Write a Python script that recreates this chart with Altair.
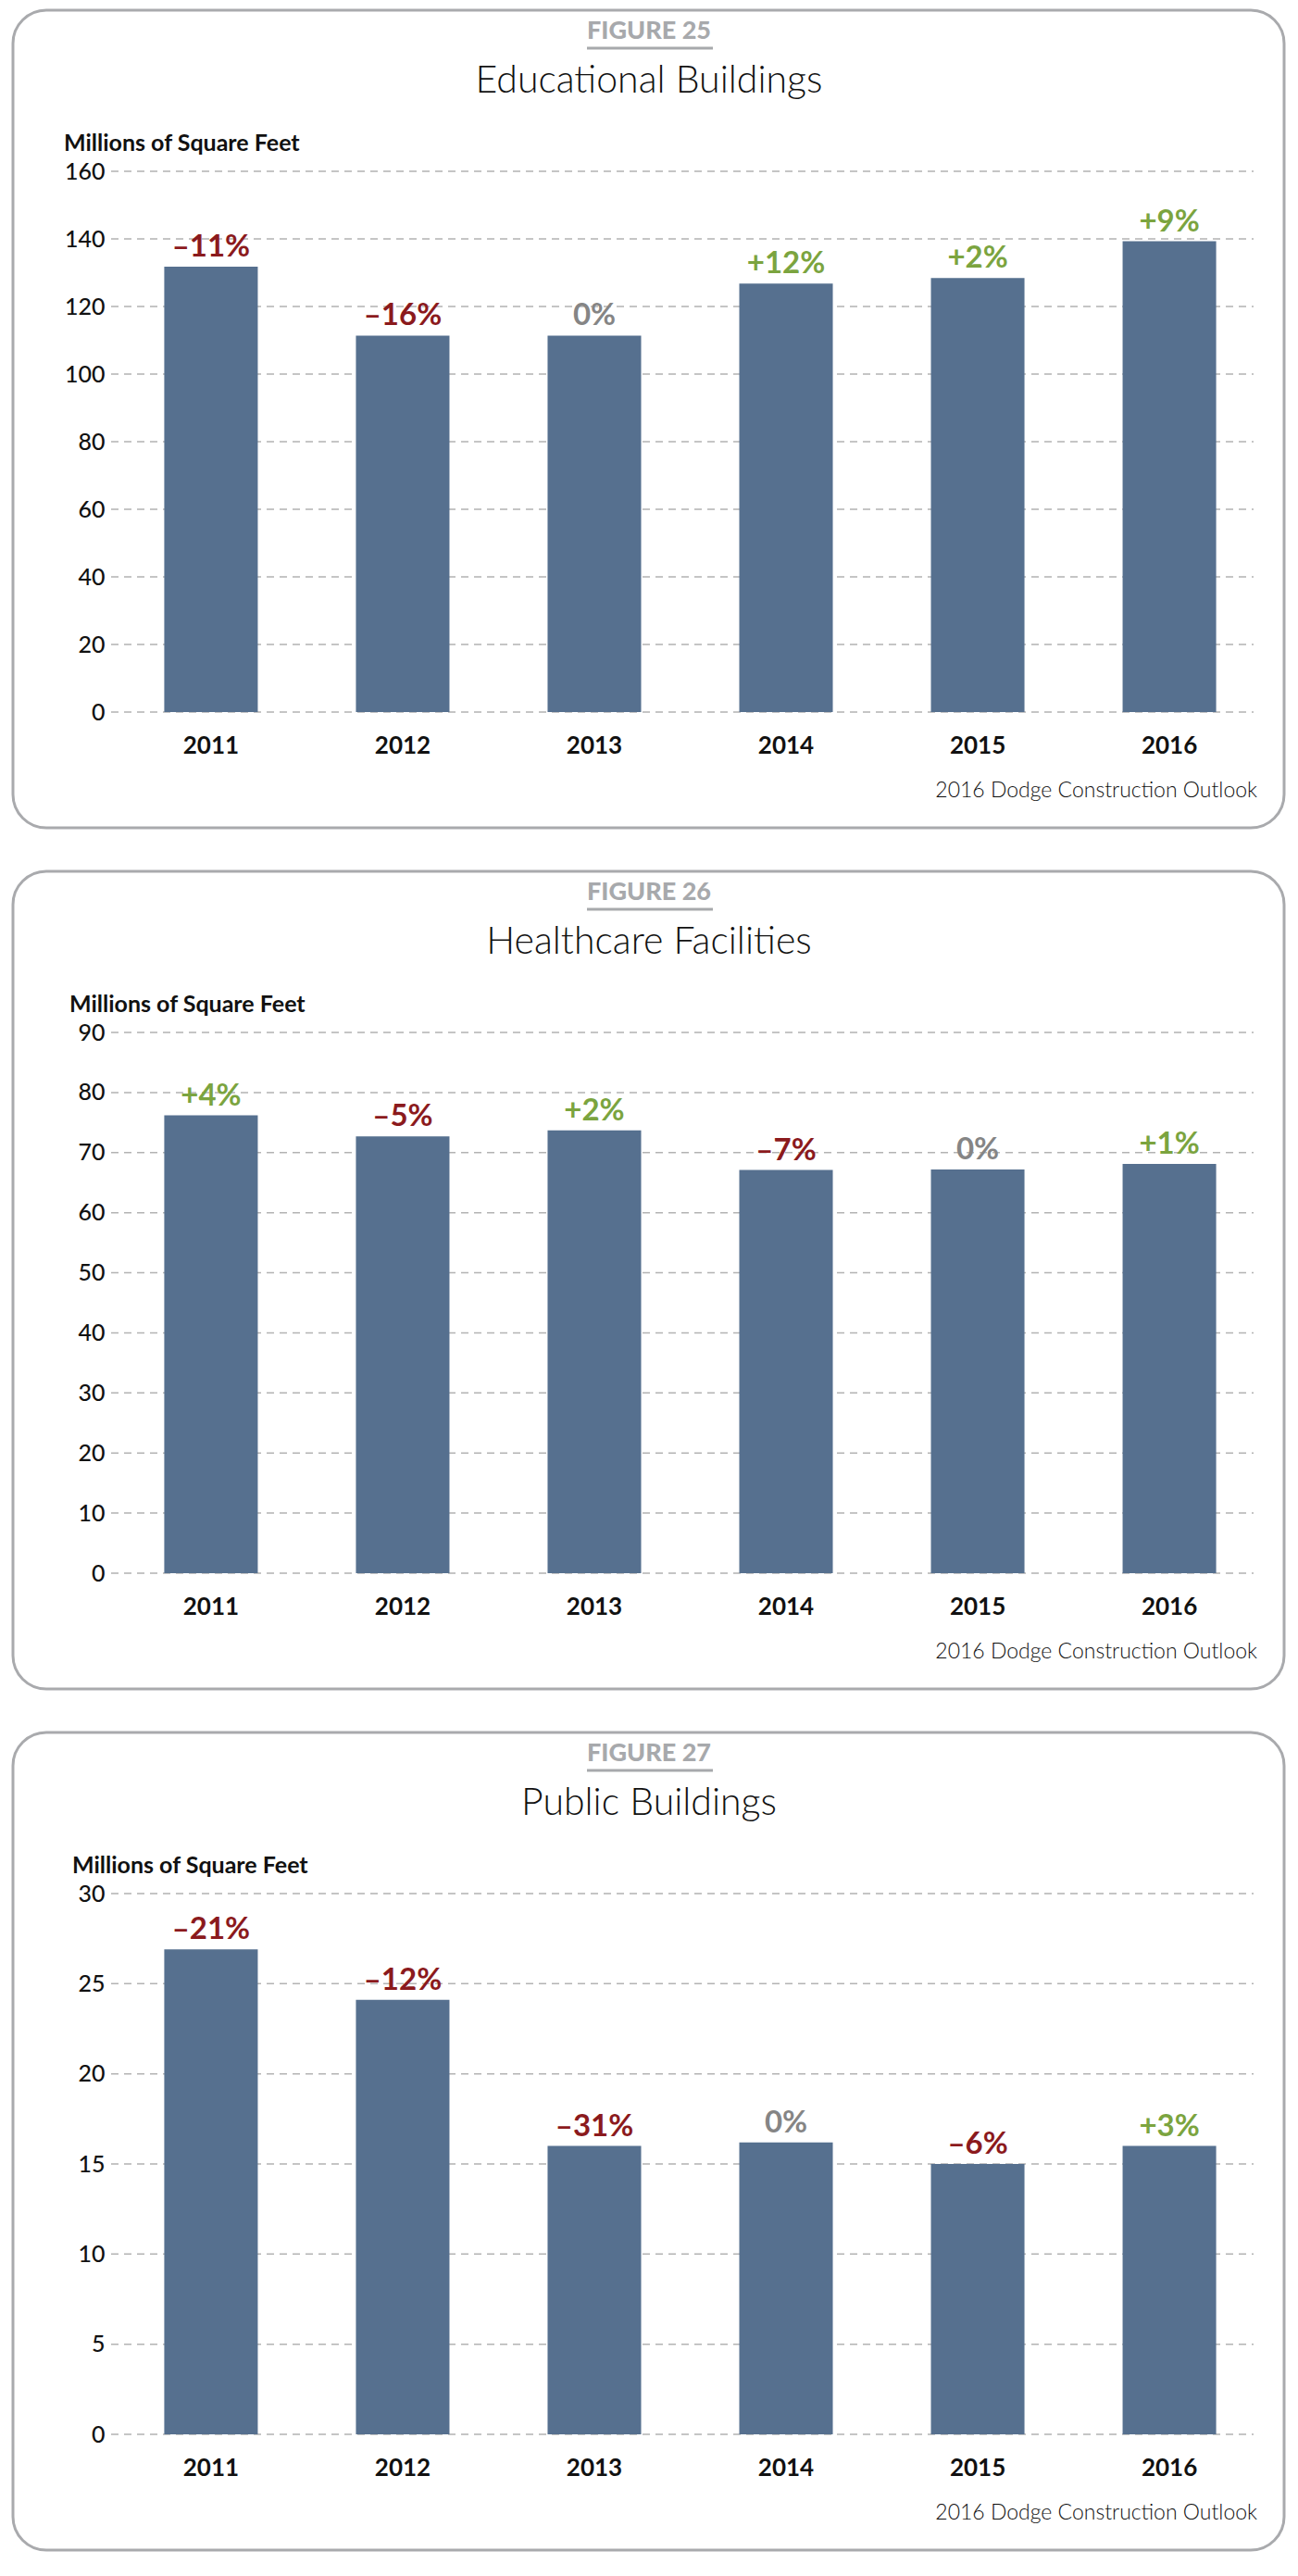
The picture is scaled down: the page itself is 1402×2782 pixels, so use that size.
import altair as alt
import pandas as pd

FIGURES = ["FIGURE 25", "FIGURE 26", "FIGURE 27"]
TITLES = ["Educational Buildings", "Healthcare Facilities", "Public Buildings"]
Y_TITLE = "Millions of Square Feet"
SOURCE = "2016 Dodge Construction Outlook"
YEARS = ["2011", "2012", "2013", "2014", "2015", "2016"]

EDU_VALUES = [131.8, 111.4, 111.4, 126.8, 128.4, 139.3]
EDU_PCT = ["–11%", "–16%", "0%", "+12%", "+2%", "+9%"]
EDU_TICKS = [0, 20, 40, 60, 80, 100, 120, 140, 160]

HEALTH_VALUES = [76.2, 72.7, 73.7, 67.1, 67.2, 68.1]
HEALTH_PCT = ["+4%", "–5%", "+2%", "–7%", "0%", "+1%"]
HEALTH_TICKS = [0, 10, 20, 30, 40, 50, 60, 70, 80, 90]

PUBLIC_VALUES = [26.9, 24.1, 16.0, 16.2, 15.0, 16.0]
PUBLIC_PCT = ["–21%", "–12%", "–31%", "0%", "–6%", "+3%"]
PUBLIC_TICKS = [0, 5, 10, 15, 20, 25, 30]

FONT = "Lato"
BAR = "#56708f"
RED = "#8b1a1d"
GREEN = "#7ba43f"
GREY = "#858585"
W, H = 1243, 584


def kind(p):
    if p.startswith("+"):
        return "pos"
    if p.startswith("0"):
        return "zero"
    return "neg"


def panel(fig, title, values, pcts, ticks, ytitle_x):
    df = pd.DataFrame({"year": YEARS, "value": values, "pct": pcts,
                       "kind": [kind(p) for p in pcts]})
    tdf = pd.DataFrame({"value": ticks})
    one = pd.DataFrame({"k": [0]})
    yscale = alt.Scale(domain=[0, ticks[-1]], nice=False, zero=True)
    yaxis = alt.Axis(values=ticks, grid=False, domain=False, ticks=False, tickSize=0,
                     labelFontSize=25, labelFont=FONT, labelColor="#111111",
                     labelFontWeight=500, labelPadding=11, title=None)
    xscale = alt.Scale(paddingInner=0.512, paddingOuter=0.258)
    xaxis = alt.Axis(domain=False, ticks=False, tickSize=0, grid=False, labelAngle=0,
                     labelFontSize=26, labelFontWeight="bold", labelFont=FONT,
                     labelColor="#111111", labelBaseline="alphabetic",
                     labelPadding=44, title=None)

    box = alt.Chart(one).mark_rect(filled=False, color="#a9aaad", stroke="#a9aaad",
                                   strokeWidth=3, cornerRadius=36).encode(
        x=alt.value(-110), x2=alt.value(1263), y=alt.value(-174), y2=alt.value(709))

    grid = alt.Chart(tdf).mark_rule(color="#b3b3b3", strokeWidth=1.5,
                                    strokeDash=[8, 6]).encode(
        y=alt.Y("value:Q", scale=yscale, axis=yaxis),
        x=alt.value(-4), x2=alt.value(1230))

    bars = alt.Chart(df).mark_bar(color=BAR).encode(
        x=alt.X("year:N", scale=xscale, axis=xaxis),
        y=alt.Y("value:Q", scale=yscale, axis=yaxis))

    labels = alt.Chart(df).mark_text(font=FONT, fontSize=33, fontWeight="bold",
                                     baseline="alphabetic", dy=-11).encode(
        x=alt.X("year:N", scale=xscale, axis=xaxis),
        y=alt.Y("value:Q", scale=yscale, axis=yaxis),
        text="pct:N",
        color=alt.Color("kind:N", legend=None,
                        scale=alt.Scale(domain=["neg", "pos", "zero"],
                                        range=[RED, GREEN, GREY])))

    fig_text = alt.Chart(one).mark_text(font=FONT, fontSize=27, fontWeight=900,
                                        color="#a7a9ac", align="center",
                                        baseline="alphabetic").encode(
        x=alt.value(577), y=alt.value(-143), text=alt.value(fig))
    underline = alt.Chart(one).mark_rule(color="#a7a9ac", strokeWidth=3).encode(
        x=alt.value(510), x2=alt.value(646), y=alt.value(-133))
    title_text = alt.Chart(one).mark_text(font=FONT, fontSize=41, fontWeight=300,
                                          color="#111111", align="center",
                                          baseline="alphabetic").encode(
        x=alt.value(577), y=alt.value(-85), text=alt.value(title))
    ytitle = alt.Chart(one).mark_text(font=FONT, fontSize=25, fontWeight="bold",
                                      color="#111111", align="left",
                                      baseline="alphabetic").encode(
        x=alt.value(ytitle_x), y=alt.value(-22), text=alt.value(Y_TITLE))
    source = alt.Chart(one).mark_text(font=FONT, fontSize=23, fontWeight=300,
                                      color="#111111", align="right",
                                      baseline="alphabetic").encode(
        x=alt.value(1234), y=alt.value(676), text=alt.value(SOURCE))

    return alt.layer(box, grid, bars, labels, fig_text, underline, title_text,
                     ytitle, source).properties(width=W, height=H)


chart = alt.vconcat(
    panel(FIGURES[0], TITLES[0], EDU_VALUES, EDU_PCT, EDU_TICKS, -55),
    panel(FIGURES[1], TITLES[1], HEALTH_VALUES, HEALTH_PCT, HEALTH_TICKS, -49),
    panel(FIGURES[2], TITLES[2], PUBLIC_VALUES, PUBLIC_PCT, PUBLIC_TICKS, -46),
    spacing=43,
).resolve_scale(y="independent", color="independent").properties(
    padding={"left": 4, "top": 1, "right": 5, "bottom": 5}
).configure(font=FONT).configure_view(strokeWidth=0, stroke="transparent")

chart.save("out.html", embed_options={"renderer": "svg", "actions": False})
